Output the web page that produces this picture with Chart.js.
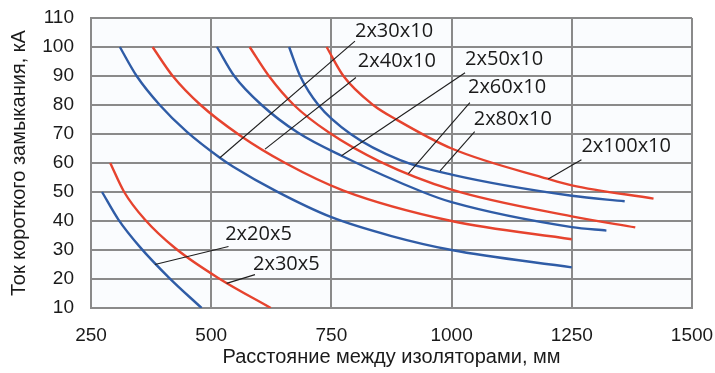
<!DOCTYPE html>
<html>
<head>
<meta charset="utf-8">
<script src="https://cdn.jsdelivr.net/npm/chart.js@4"></script>
<style>
	body { margin: 0; background: #fff; }
	canvas { display: block; }
</style>
</head>
<body>
<canvas id="chart" width="715" height="373"></canvas>
<script>

// distance between insulators, mm / short-circuit current, kA
const mm2x20x5 = [ 273, 307, 352, 412, 480 ];
const kA2x20x5 = [ 50, 40.5, 31, 20.5, 10 ];

const mm2x30x5 = [ 290, 319, 362, 426, 518, 624 ];
const kA2x30x5 = [ 60, 50, 40.5, 30.5, 20, 10 ];

const mm2x30x10 = [ 310, 345, 393, 449, 518, 545, 636, 750, 875, 1000, 1250 ];
const kA2x30x10 = [ 100, 90, 80, 70.8, 61.8, 58.8, 50.2, 41.3, 34.8, 30, 24 ];

const mm2x40x10 = [ 378, 420, 478, 560, 654, 775, 1000, 1250 ];
const kA2x40x10 = [ 100, 90, 80, 69.5, 60, 50.5, 40, 33.7 ];

const mm2x50x10 = [ 512, 548, 605, 680, 771, 940, 1000, 1250, 1322 ];
const kA2x50x10 = [ 100, 90, 80, 70.5, 62.5, 50, 46.5, 37.9, 36.7 ];

const mm2x60x10 = [ 580, 620, 672, 745, 851, 1000, 1250, 1382 ];
const kA2x60x10 = [ 100, 90, 80, 70.5, 60.5, 50.8, 41.6, 37.8 ];

const mm2x80x10 = [ 662, 685, 723, 790, 893, 1000, 1250, 1360 ];
const kA2x80x10 = [ 100, 90, 80, 70, 61, 56, 48.7, 46.8 ];

const mm2x100x10 = [ 740, 775, 837, 886, 1000, 1201, 1250, 1420 ];
const kA2x100x10 = [ 100, 90, 80, 74.9, 65, 54.5, 52.3, 47.7 ];

// callout labels and their leader lines
const labelText = [ '2x30x10', '2x40x10', '2x50x10', '2x60x10', '2x80x10', '2x100x10', '2x20x5', '2x30x5' ];
const labelX = [ 799, 805, 1028, 1034, 1046, 1270, 529, 587 ];
const labelY = [ 105.3, 94.9, 95.6, 86, 74.9, 65.6, 35.3, 24.9 ];
const leaderFromX = [ 518, 612, 771, 910, 976, 1201, 383, 532 ];
const leaderFromY = [ 61.8, 64.8, 62.5, 56.3, 57.3, 54.5, 25, 18.5 ];
const leaderToX = [ 799, 801, 1028, 1038, 1048, 1270, 536, 591 ];
const leaderToY = [ 102, 89.5, 91.1, 80.8, 70.8, 61.1, 31.2, 21.5 ];

const xTicks = [ 250, 500, 750, 1000, 1250, 1500 ];
const yTicks = [ 10, 20, 30, 40, 50, 60, 70, 80, 90, 100, 110 ];

const xTitle = 'Расстояние между изоляторами, мм';
const yTitle = 'Ток короткого замыкания, кА';

const BLUE = '#2f5ca6';
const RED = '#e6432e';
const GRID = '#8a8a8a';
const FONT = '"Liberation Sans", Arial, sans-serif';

function points ( xs, ys ) {

	return xs.map( ( v, i ) => ( { x: v, y: ys[ i ] } ) );

}

function curve ( xs, ys, colour ) {

	return {
		data: points( xs, ys ),
		borderColor: colour,
		borderWidth: 2.4,
		pointRadius: 0,
		showLine: true,
		cubicInterpolationMode: 'monotone'
	};

}

const leaders = labelText.map( ( t, i ) => ( {
	data: [
		{ x: leaderFromX[ i ], y: leaderFromY[ i ] },
		{ x: leaderToX[ i ], y: leaderToY[ i ] }
	],
	borderColor: '#1e1e1e',
	borderWidth: 1.1,
	pointRadius: 0,
	showLine: true
} ) );

const curves = [
	curve( mm2x20x5, kA2x20x5, BLUE ),
	curve( mm2x30x5, kA2x30x5, RED ),
	curve( mm2x30x10, kA2x30x10, BLUE ),
	curve( mm2x40x10, kA2x40x10, RED ),
	curve( mm2x50x10, kA2x50x10, BLUE ),
	curve( mm2x60x10, kA2x60x10, RED ),
	curve( mm2x80x10, kA2x80x10, BLUE ),
	curve( mm2x100x10, kA2x100x10, RED )
];

const plotBackground = {
	id: 'plotBackground',
	beforeDraw ( chart ) {

		const { ctx, chartArea: a } = chart;
		ctx.save();
		ctx.fillStyle = '#fafcfe';
		ctx.fillRect( a.left, a.top, a.right - a.left, a.bottom - a.top );
		ctx.restore();

	}
};

const callouts = {
	id: 'callouts',
	afterDatasetsDraw ( chart ) {

		const { ctx, scales: { x, y } } = chart;
		ctx.save();
		ctx.font = '20px "Open Sans", sans-serif';
		ctx.fillStyle = '#1a1a1a';
		ctx.textAlign = 'left';
		ctx.textBaseline = 'middle';

		labelText.forEach( ( t, i ) => {

			ctx.fillText( t, x.getPixelForValue( labelX[ i ] ), y.getPixelForValue( labelY[ i ] ) );

		} );

		ctx.restore();

	}
};

new Chart( document.getElementById( 'chart' ), {
	type: 'scatter',
	data: {
		datasets: [ ...leaders, ...curves ]
	},
	options: {
		responsive: false,
		animation: false,
		devicePixelRatio: 1,
		layout: {
			padding: { top: 18, right: 23, left: 0, bottom: 0 }
		},
		plugins: {
			legend: { display: false },
			tooltip: { enabled: false }
		},
		scales: {
			x: {
				type: 'linear',
				min: xTicks[ 0 ],
				max: xTicks[ xTicks.length - 1 ],
				afterFit: scale => {

					scale.height = 65;
					scale.paddingLeft = 0;
					scale.paddingRight = 0;

				},
				afterBuildTicks: scale => { scale.ticks = xTicks.map( v => ( { value: v } ) ); },
				grid: { color: GRID, lineWidth: 2, drawTicks: false },
				border: { color: GRID, width: 2 },
				ticks: {
					padding: 16,
					color: '#1a1a1a',
					callback: v => String( v ),
					font: { family: FONT, size: 19 }
				},
				title: {
					display: true,
					text: xTitle,
					color: '#1a1a1a',
					padding: { top: 0, bottom: 4 },
					font: { family: FONT, size: 20 }
				}
			},
			y: {
				type: 'linear',
				min: yTicks[ 0 ],
				max: yTicks[ yTicks.length - 1 ],
				afterFit: scale => {

					scale.width = 91;
					scale.paddingTop = 0;
					scale.paddingBottom = 0;

				},
				afterBuildTicks: scale => { scale.ticks = yTicks.map( v => ( { value: v } ) ); },
				grid: { color: GRID, lineWidth: 2, drawTicks: false },
				border: { color: GRID, width: 2 },
				ticks: {
					padding: 17,
					color: '#1a1a1a',
					callback: v => String( v ),
					font: { family: FONT, size: 19 }
				},
				title: {
					display: true,
					text: yTitle,
					color: '#1a1a1a',
					padding: { top: 7, bottom: 0 },
					font: { family: FONT, size: 20 }
				}
			}
		}
	},
	plugins: [ plotBackground, callouts ]
} );

</script>
</body>
</html>
